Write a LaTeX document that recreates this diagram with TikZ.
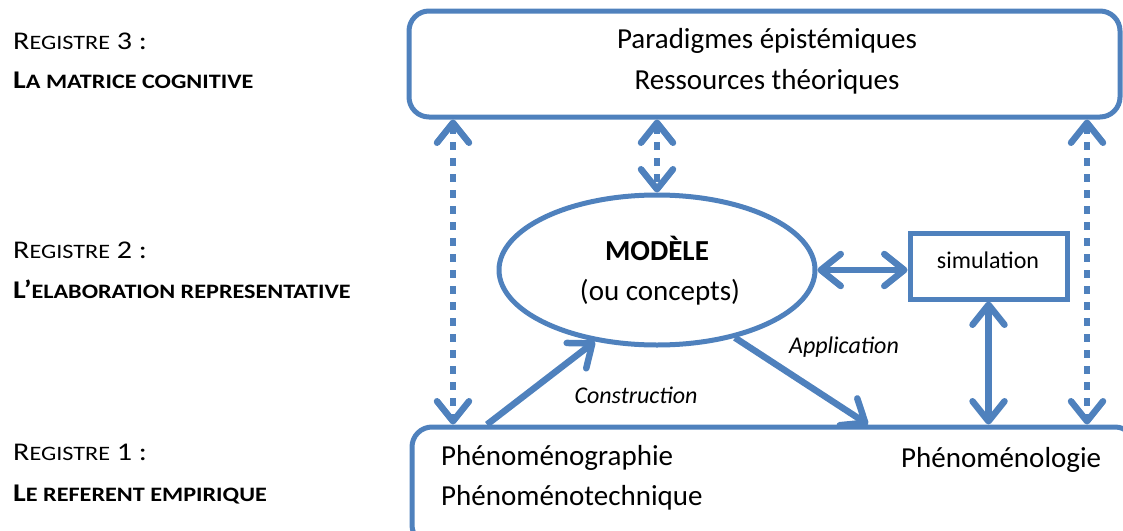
\documentclass[tikz,border=0pt]{standalone}
\usepackage{fontspec}
\setmainfont{Carlito}
\newfontfamily\regfont[FakeStretch=1.18]{Carlito}
\usetikzlibrary{arrows.meta,shapes.geometric}
\definecolor{bl}{RGB}{79,129,189}
\newcommand\regbig{\regfont\fontsize{25.5}{30}\selectfont}
\newcommand\regsm[1]{{\fontsize{20.5}{24}\selectfont #1}}
\begin{document}
\begin{tikzpicture}[x=1pt,y=1pt,
  box/.style={draw=bl, line width=5pt, rounded corners=20pt, inner sep=0pt},
  tx/.style={inner sep=0pt, font=\fontsize{29}{34}\selectfont},
  lab/.style={inner sep=0pt, font=\fontsize{24}{28}\selectfont\itshape},
  reg/.style={inner sep=0pt, anchor=base west, font=\regbig},
  arr/.style={draw=bl, line width=6.5pt},
  dots/.style={draw=bl, line width=6.5pt, dash pattern=on 8pt off 8pt},
  >={Straight Barb[length=20pt,width=32pt,round]}]
\useasboundingbox (0,0) rectangle (1123,-530);
\clip (0,0) rectangle (1123,-530);

% left register labels
\node[reg] (r3a) at (13,-49) {R\regsm{EGISTRE} 3 :};
\node[reg] (r3b) at (13,-88) {\bfseries L\regsm{A MATRICE COGNITIVE}};
\node[reg] (r2a) at (13,-258) {R\regsm{EGISTRE} 2 :};
\node[reg] (r2b) at (13,-298) {\bfseries L’\regsm{ELABORATION REPRESENTATIVE}};
\node[reg] (r1a) at (13,-460) {R\regsm{EGISTRE} 1 :};
\node[reg] (r1b) at (13,-501) {\bfseries L\regsm{E REFERENT EMPIRIQUE}};

% top box
\node[box, minimum width=711pt, minimum height=106pt] (top) at (764.5,-64) {};
\node[tx, anchor=base] (t1) at (767,-48) {Paradigmes épistémiques};
\node[tx, anchor=base] (t2) at (767,-89) {Ressources théoriques};

% bottom box
\node[box, minimum width=723pt, minimum height=118pt] (bot) at (773.5,-486) {};
\node[tx, anchor=base west] (b1) at (441,-465) {Phénoménographie};
\node[tx, anchor=base west] (b2) at (441,-505) {Phénoménotechnique};
\node[tx, anchor=base west] (b3) at (901,-467) {Phénoménologie};

% model ellipse
\node[draw=bl, line width=5pt, ellipse, minimum width=316pt, minimum height=150pt, inner sep=0pt] (ell) at (657,-270) {};
\node[tx, anchor=base, font=\fontsize{29}{34}\selectfont\bfseries] (m1) at (657,-260) {MODÈLE};
\node[tx, anchor=base] (m2) at (660,-300) {(ou concepts)};

% simulation box
\node[draw=bl, line width=5pt, minimum width=157pt, minimum height=66pt, inner sep=0pt] (sim) at (988.5,-266) {};
\node[inner sep=0pt, anchor=base, font=\fontsize{24}{28}\selectfont] (s1) at (988,-268) {simulation};

% coordinates for vertical dotted links
\coordinate (xl) at (453,0);
\coordinate (xr) at (1087,0);

% dotted links
\draw[dots, <->] (top.south -| xl) -- (bot.north -| xl);
\draw[dots, <->] (top.south -| ell.north) -- (ell.north);
\draw[dots, <->] (top.south -| xr) -- (bot.north -| xr);

% solid arrows
\coordinate (cs) at (487,0);
\coordinate (ae) at (868,0);
\draw[arr, ->] (bot.north -| cs) -- (ell.229);
\draw[arr, ->] (ell.319) -- (bot.north -| ae);
\draw[arr, <->] (ell.east) -- (ell.east -| sim.west);
\draw[arr, <->] (sim.south) -- (sim.south |- bot.north);

% arrow labels
\node[lab, anchor=base] (la) at (844,-353) {Application};
\node[lab, anchor=base] (lc) at (636,-403) {Construction};
\end{tikzpicture}
\end{document}
